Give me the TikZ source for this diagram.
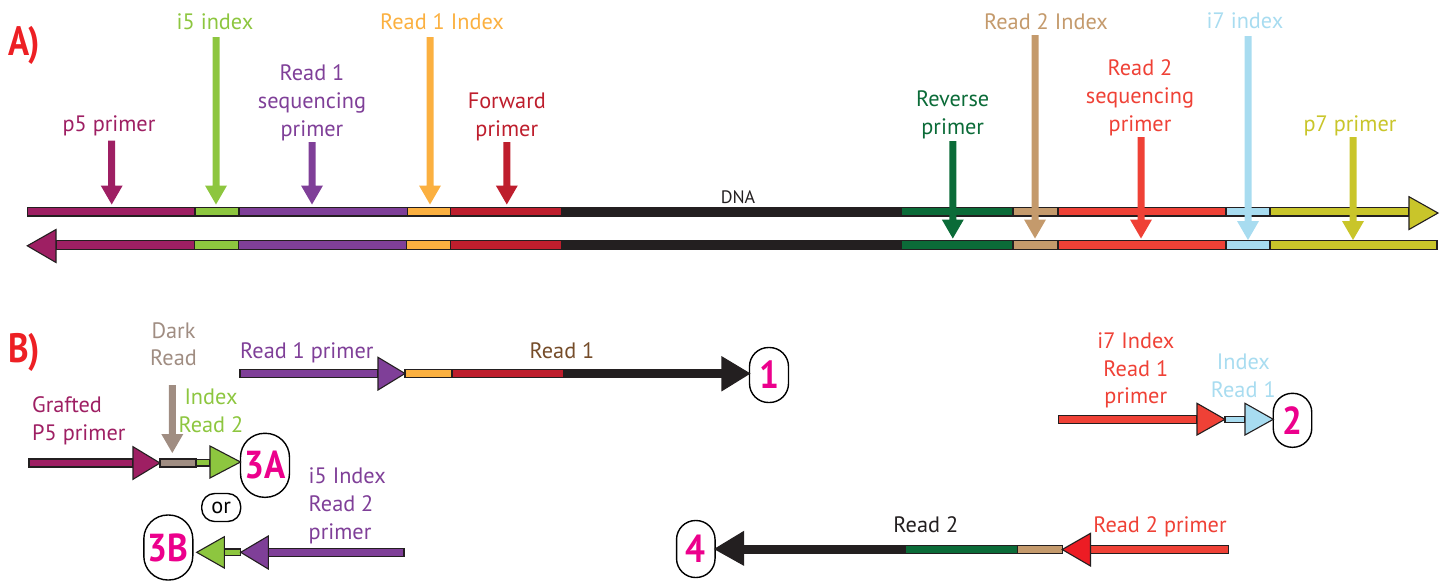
\documentclass[tikz,border=0pt]{standalone}
\usepackage{fontspec}
\setmainfont{PT Sans}
\definecolor{cp5}{HTML}{9E1F63}
\definecolor{ci5}{HTML}{8DC63F}
\definecolor{cpur}{HTML}{7F3F98}
\definecolor{corg}{HTML}{FBB040}
\definecolor{cfwd}{HTML}{BE1E2D}
\definecolor{cdna}{HTML}{231F20}
\definecolor{crev}{HTML}{0B6B38}
\definecolor{ctan}{HTML}{C49A6C}
\definecolor{cr2}{HTML}{EF4136}
\definecolor{cr2h}{HTML}{ED1C24}
\definecolor{ci7}{HTML}{A8DCF0}
\definecolor{cp7}{HTML}{C9C52A}
\definecolor{cdark}{HTML}{A08D82}
\definecolor{cAB}{HTML}{ED2024}
\definecolor{cmag}{HTML}{EC008C}
\definecolor{cread1}{HTML}{754C29}
\newcommand{\dnarr}[4]{\fill[#1] (#2-3.5,#3) -- (#2+3.5,#3) -- (#2+3.5,#4-19) -- (#2+11,#4-19) -- (#2,#4) -- (#2-11,#4-19) -- (#2-3.5,#4-19) -- cycle;}
\newcommand{\pnum}[1]{\scalebox{0.9}[1]{#1}}
\begin{document}
\begin{tikzpicture}[x=1pt,y=-1pt,
  seg/.style={draw=cdna, line width=1.1pt},
  lab/.style={inner sep=0pt, font=\fontsize{22.3}{28}\selectfont, align=center},
  labb/.style={inner sep=0pt, font=\fontsize{22.3}{27.5}\selectfont, align=center},
  pill/.style={draw=black, line width=1.4pt, inner sep=0pt, text=cmag, font=\fontsize{39}{39}\selectfont\bfseries},
  big/.style={inner sep=0pt, text=cAB, font=\fontsize{41}{41}\selectfont\bfseries}
]
\useasboundingbox (0,0) rectangle (1445,582);

% ---------- A) top strand ----------
\filldraw[seg, fill=cp5]  (27.3,207.5) rectangle (195,216);
\filldraw[seg, fill=ci5]  (195,207.5) rectangle (239,216);
\filldraw[seg, fill=cpur] (239,207.5) rectangle (407.5,216);
\filldraw[seg, fill=corg] (407.5,207.5) rectangle (450.7,216);
\filldraw[seg, fill=cfwd] (450.7,207.5) rectangle (562,216);
\filldraw[seg, fill=cdna] (562,207.5) rectangle (901,216);
\filldraw[seg, fill=crev] (901,207.5) rectangle (1013,216);
\filldraw[seg, fill=ctan] (1013,207.5) rectangle (1058,216);
\filldraw[seg, fill=cr2]  (1058,207.5) rectangle (1226,216);
\filldraw[seg, fill=ci7]  (1226,207.5) rectangle (1270,216);
\filldraw[seg, fill=cp7]  (1270,207.5) rectangle (1409,216);
\filldraw[seg, fill=cp7]  (1409,196.7) -- (1438,213) -- (1409,229.5) -- cycle;

% ---------- A) bottom strand ----------
\filldraw[seg, fill=cp5]  (56,240.7) rectangle (194.3,249.3);
\filldraw[seg, fill=ci5]  (194.3,240.7) rectangle (238.7,249.3);
\filldraw[seg, fill=cpur] (238.7,240.7) rectangle (406.7,249.3);
\filldraw[seg, fill=corg] (406.7,240.7) rectangle (450.7,249.3);
\filldraw[seg, fill=cfwd] (450.7,240.7) rectangle (562,249.3);
\filldraw[seg, fill=cdna] (562,240.7) rectangle (901,249.3);
\filldraw[seg, fill=crev] (901,240.7) rectangle (1013,249.3);
\filldraw[seg, fill=ctan] (1013,240.7) rectangle (1058,249.3);
\filldraw[seg, fill=cr2]  (1058,240.7) rectangle (1226,249.3);
\filldraw[seg, fill=ci7]  (1226,240.7) rectangle (1270,249.3);
\filldraw[seg, fill=cp7]  (1270,240.7) rectangle (1437,249.3);
\filldraw[seg, fill=cp5]  (56,229.5) -- (27.3,245.8) -- (56,262.5) -- cycle;

% ---------- A) pointer arrows ----------
\dnarr{cp5}{111.7}{140.7}{204.5}
\dnarr{ci5}{216}{37}{204.5}
\dnarr{cpur}{312}{142}{204.5}
\dnarr{corg}{430}{37}{204.5}
\dnarr{cfwd}{506.8}{142}{204.5}
\dnarr{crev}{952.8}{141}{238.5}
\dnarr{ctan}{1035}{35}{238.5}
\dnarr{cr2}{1141}{137}{238.5}
\dnarr{ci7}{1248}{36}{240}
\dnarr{cp7}{1353}{137}{240}

% ---------- A) labels ----------
\node[big, anchor=base] (labA) at (24,55) {\scalebox{0.85}[1]{A)}};
\node[lab, text=ci5, anchor=north] (li5) at (215,14) {i5 index};
\node[lab, text=corg, anchor=north] (lr1i) at (442,13.5) {Read 1 Index};
\node[lab, text=cpur, anchor=north] (lr1s) at (312,64) {Read 1\\sequencing\\primer};
\node[lab, text=cfwd, anchor=north] (lfwd) at (506.8,93) {Forward\\primer};
\node[lab, text=cp5, anchor=base] (lp5) at (109,131.7) {p5 primer};
\node[lab, text=cdna, anchor=base, font=\fontsize{18}{20}\selectfont] (ldna) at (738,203) {DNA};
\node[lab, text=crev, anchor=north] (lrev) at (952.7,91) {Reverse\\primer};
\node[lab, text=ctan, anchor=north] (lr2i) at (1046,13) {Read 2 Index};
\node[lab, text=cr2, anchor=north] (lr2s) at (1140,59.5) {Read 2\\sequencing\\primer};
\node[lab, text=ci7, anchor=north] (li7) at (1245,13) {i7 index};
\node[lab, text=cp7, anchor=base] (lp7) at (1350,131) {p7 primer};

% ---------- B) pills ----------
\node[pill, minimum width=39pt, minimum height=55pt, rounded corners=19pt] (n1) at (769,375) {\pnum{1}};
\node[pill, minimum width=38.5pt, minimum height=54pt, rounded corners=19pt] (n2) at (1292.5,420.3) {\pnum{2}};
\node[pill, minimum width=49pt, minimum height=64pt, rounded corners=24pt] (n3a) at (265,465.3) {\pnum{3A}};
\node[pill, minimum width=49pt, minimum height=65pt, rounded corners=24pt] (n3b) at (168.3,547.5) {\pnum{3B}};
\node[pill, minimum width=38.5pt, minimum height=57pt, rounded corners=19pt] (n4) at (695.8,549) {\pnum{4}};
\node[draw=black, line width=1.4pt, inner sep=0pt, minimum width=39pt, minimum height=28pt, rounded corners=13pt, font=\fontsize{22.3}{24}\selectfont] (nor) at (221.2,507.5) {or};

% ---------- B) Read 1 ----------
\filldraw[seg, fill=cpur] (240,369.5) rectangle (378,377.5);
\filldraw[seg, fill=corg] (405,369.5) rectangle (452,377.5);
\filldraw[seg, fill=cfwd] (452,369.5) rectangle (564,377.5);
\filldraw[seg, fill=cdna] (564,369.5) rectangle (722,377.5);
\filldraw[seg, fill=cpur] (378,357.3) -- (405,373.5) -- (378,390) -- cycle;
\filldraw[seg, fill=cdna] (722,357) -- (749.5,373.5) -- (722,390.5) -- cycle;

% ---------- B) Grafted P5 / 3A ----------
\filldraw[seg, fill=cp5] (29,459) rectangle (133,467);
\filldraw[seg, fill=cdark] (160,459) rectangle (196,467);
\filldraw[seg, fill=ci5] (196,459.5) rectangle (210,466);
\filldraw[seg, fill=cp5] (133,446.7) -- (160,463) -- (133,479.3) -- cycle;
\filldraw[seg, fill=ci5] (210,446) -- (240.5,462) -- (210,478) -- cycle;
\dnarr{cdark}{172.3}{385}{453}

% ---------- B) 3B ----------
\filldraw[seg, fill=cpur] (268.3,548.3) rectangle (404,556.3);
\filldraw[seg, fill=ci5] (224.3,549) rectangle (240.7,555.5);
\filldraw[seg, fill=cpur] (268.3,536) -- (240.7,552.3) -- (268.3,569) -- cycle;
\filldraw[seg, fill=ci5] (224.3,536.7) -- (196.7,552.3) -- (224.3,568) -- cycle;

% ---------- B) i7 / 2 ----------
\filldraw[seg, fill=cr2] (1058.3,415.7) rectangle (1197,423.3);
\filldraw[seg, fill=ci7] (1225,416.7) rectangle (1245,422.3);
\filldraw[seg, fill=cr2] (1197,403.3) -- (1225,419.3) -- (1197,435) -- cycle;
\filldraw[seg, fill=ci7] (1245,403.3) -- (1273.3,419.3) -- (1245,435) -- cycle;

% ---------- B) Read 2 / 4 ----------
\filldraw[seg, fill=cr2] (1090.5,545.5) rectangle (1228.8,553.5);
\filldraw[seg, fill=ctan] (1017.6,545.5) rectangle (1062.2,553.5);
\filldraw[seg, fill=crev] (905.4,545.5) rectangle (1017.6,553.5);
\filldraw[seg, fill=cdna] (743.6,545.5) rectangle (905.4,553.5);
\filldraw[seg, fill=cr2h] (1090.5,533.3) -- (1062.2,549.5) -- (1090.5,566) -- cycle;
\filldraw[seg, fill=cdna] (743.6,531.7) -- (715,549) -- (743.6,565) -- cycle;

% ---------- B) labels ----------
\node[big, anchor=base] (labB) at (24,362) {\scalebox{0.85}[1]{B)}};
\node[labb, text=cdark, anchor=north] (ldark) at (173.5,322.5) {Dark\\Read};
\node[labb, text=cpur, anchor=base west] (lr1p) at (240,358.3) {Read 1 primer};
\node[labb, text=cread1, anchor=base] (lr1) at (562,358.3) {Read 1};
\node[labb, text=cp5, anchor=north west, align=left] (lgraft) at (32,396.5) {Grafted\\P5 primer};
\node[labb, text=ci5, anchor=north] (lidx2) at (211,389) {Index\\Read 2};
\node[labb, text=cpur, anchor=north west, align=left] (li5r2) at (308.5,468) {i5 Index\\Read 2\\primer};
\node[labb, text=cr2, anchor=north] (li7r1) at (1135.8,333) {i7 Index\\Read 1\\primer};
\node[labb, text=ci7, anchor=north] (lidx1) at (1243.3,354) {Index\\Read 1};
\node[labb, text=cdna, anchor=base] (lr2) at (925.8,532.3) {Read 2};
\node[labb, text=cr2, anchor=base] (lr2p) at (1160,532.3) {Read 2 primer};
\end{tikzpicture}
\end{document}
